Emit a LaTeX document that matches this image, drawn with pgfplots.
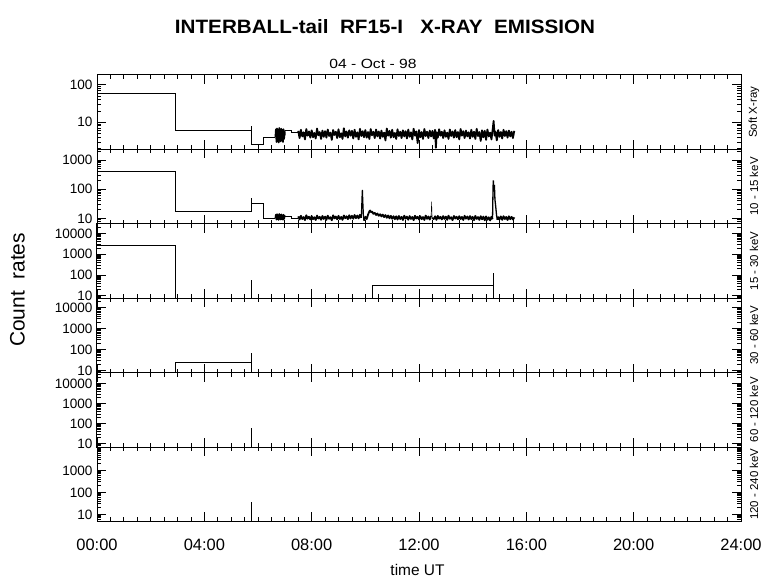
\documentclass[border=0pt]{standalone}
\usepackage{pgfplots}
\pgfplotsset{compat=1.18}
\usepackage{fontspec}
\setmainfont{Liberation Sans}

\pgfplotsset{
  every axis/.append style={
  scale only axis, width=644bp, height=74.4bp, anchor=north west,
  xtick={0,4,...,24}, minor x tick num=7,
  major tick length=9bp, minor tick length=4bp,
  tick style={black, line width=0.8bp},
  axis line style={line width=1bp},
  yticklabel style={font=\fontsize{13.6}{15}\selectfont, xshift=-1bp},
  xticklabel style={font=\fontsize{16.5}{18}\selectfont, yshift=-14bp},
  /pgf/number format/assume math mode=true,
  cycle list={{black, mark=none, line width=1bp}},
  },
  noise/.style={line width=1.8bp, line join=round},
}

\begin{document}
\begin{tikzpicture}
\useasboundingbox (-97bp,75bp) rectangle (683bp,-504bp);

% ---------- panel 1 : Soft X-ray
\begin{axis}[name=p1, at={(0,0)}, xmin=0, xmax=24, ymode=log, xticklabels={},
  ymin=1.9, ymax=180, ytick={10,100}, yticklabels={10,100},
  minor ytick={2,3,4,5,6,7,8,9,20,30,40,50,60,70,80,90}]
\addplot+[const plot] coordinates {(0,59) (2.93,6.2) (5.74,2.6) (6.2,4.0) (6.65,4.0)};
\addplot coordinates {(5.74,6.2) (5.74,8)};
\addplot+[noise] coordinates {(6.65,4.0) (6.67,6.5) (6.69,3.0) (6.71,6.8) (6.73,3.3) (6.75,6.2) (6.77,2.9) (6.79,7.0) (6.81,3.5) (6.83,6.4) (6.85,3.1) (6.87,6.7) (6.89,3.4) (6.91,6.0) (6.93,3.0) (6.95,6.5) (6.97,3.6) (6.99,5.8) (7.00,4.5)};
\addplot+[const plot] coordinates {(7.0,6.2) (7.25,5.4) (7.5,5.4)};
\addplot+[noise] coordinates {
(7.50,5.9) (7.55,3.8) (7.60,6.3) (7.65,4.2) (7.70,5.4) (7.75,3.5) (7.80,6.6) (7.85,4.4) (7.90,5.7) (7.95,3.9)
(8.00,6.1) (8.05,4.0) (8.10,5.2) (8.15,3.7) (8.20,6.8) (8.25,4.5) (8.30,5.5) (8.35,3.6) (8.40,6.0) (8.45,4.1)
(8.50,5.8) (8.55,3.9) (8.60,6.4) (8.65,4.3) (8.70,5.3) (8.75,3.4) (8.80,6.2) (8.85,4.6) (8.90,5.6) (8.95,3.8)
(9.00,6.5) (9.05,4.0) (9.10,5.1) (9.15,3.6) (9.20,6.9) (9.25,4.2) (9.30,5.7) (9.35,3.9) (9.40,6.1) (9.45,4.4)
(9.50,5.9) (9.55,3.7) (9.60,6.3) (9.65,4.1) (9.70,5.4) (9.75,3.5) (9.80,6.7) (9.85,4.3) (9.90,5.8) (9.95,4.0)
(10.00,6.2) (10.05,3.9) (10.10,5.5) (10.15,3.6) (10.20,6.6) (10.25,4.5) (10.30,5.6) (10.35,3.8) (10.40,6.4) (10.45,4.2)
(10.50,5.7) (10.55,3.7) (10.60,6.0) (10.65,4.1) (10.70,5.3) (10.75,3.3) (10.80,6.8) (10.85,4.4) (10.90,5.9) (10.95,3.9)
(11.00,6.3) (11.05,4.0) (11.10,5.2) (11.15,3.6) (11.20,6.5) (11.25,4.3) (11.30,5.6) (11.35,3.8) (11.40,6.1) (11.45,4.2)
(11.50,5.8) (11.55,3.7) (11.60,6.4) (11.65,4.1) (11.70,5.4) (11.75,3.5) (11.80,6.7) (11.85,4.4) (11.90,5.7) (11.95,2.8)
(12.00,6.2) (12.05,4.0) (12.10,5.5) (12.15,3.6) (12.20,6.6) (12.25,4.3) (12.30,5.6) (12.35,3.8) (12.40,6.0) (12.45,4.2)
(12.50,5.9) (12.55,3.7) (12.60,6.3) (12.63,2.1) (12.66,5.4) (12.70,3.9) (12.75,6.5) (12.80,4.4) (12.85,5.6) (12.90,3.8) (12.95,6.1)
(13.00,4.1) (13.05,5.3) (13.10,3.6) (13.15,6.4) (13.20,4.3) (13.25,5.7) (13.30,3.9) (13.35,6.2) (13.40,4.0)
(13.45,5.5) (13.50,3.5) (13.55,6.6) (13.60,4.4) (13.65,5.8) (13.70,3.8) (13.75,6.0) (13.80,4.2) (13.85,5.4) (13.90,3.7)
(13.95,6.3) (14.00,4.1) (14.05,5.6) (14.10,3.6) (14.15,6.7) (14.20,4.3) (14.25,5.5) (14.30,3.2) (14.35,6.1) (14.40,4.0)
(14.45,5.9) (14.50,3.4) (14.55,6.4) (14.60,4.2) (14.65,5.3) (14.70,3.5) (14.75,6.8) (14.78,10.8) (14.82,4.4) (14.85,5.7) (14.90,3.3) (14.95,6.2)
(15.00,4.1) (15.05,5.5) (15.10,3.7) (15.15,6.3) (15.20,4.3) (15.25,5.8) (15.30,3.9) (15.35,6.0) (15.40,4.2) (15.45,5.6) (15.50,3.8) (15.55,5.9)};
\end{axis}

% ---------- panel 2 : 10 - 15 keV
\begin{axis}[name=p2, at={(0,-74.4bp)}, xmin=0, xmax=24, ymode=log, xticklabels={},
  ymin=6.6, ymax=2300, ytick={10,100,1000}, yticklabels={10,100,1000},
  minor ytick={7,8,9,20,30,40,50,60,70,80,90,200,300,400,500,600,700,800,900,2000}]
\addplot+[const plot] coordinates {(0,411) (2.93,17.9) (5.74,33.5) (6.2,10.0) (6.65,10.0)};
\addplot coordinates {(5.74,33.5) (5.74,50)};
\addplot+[noise] coordinates {(6.65,10.0) (6.67,13.5) (6.69,9.2) (6.71,14.0) (6.73,9.6) (6.75,13.0) (6.77,9.0) (6.79,14.2) (6.81,9.8) (6.83,13.2) (6.85,9.3) (6.87,13.8) (6.89,9.5) (6.91,12.8) (6.93,9.1) (6.95,13.4) (6.97,9.7) (6.99,12.5) (7.00,11.0)};
\addplot+[const plot] coordinates {(7.0,11.7) (7.25,10.3) (7.5,10.3)};
\addplot+[noise] coordinates {
(7.50,11.8) (7.55,9.2) (7.60,12.4) (7.65,9.6) (7.70,11.2) (7.75,8.8) (7.80,12.9) (7.85,9.9) (7.90,11.5) (7.95,9.3)
(8.00,12.1) (8.05,9.5) (8.10,11.0) (8.15,8.9) (8.20,12.6) (8.25,10.0) (8.30,11.4) (8.35,9.1) (8.40,12.2) (8.45,9.7)
(8.50,11.6) (8.55,9.0) (8.60,12.5) (8.65,9.8) (8.70,11.1) (8.75,8.7) (8.80,12.8) (8.85,10.1) (8.90,11.7) (8.95,9.4)
(9.00,12.3) (9.05,9.6) (9.10,11.3) (9.15,9.0) (9.20,12.7) (9.25,10.2) (9.30,11.9) (9.35,9.5) (9.40,12.9) (9.45,10.0)
(9.50,12.4) (9.55,9.8) (9.60,13.2) (9.65,10.3) (9.70,12.6) (9.75,10.1) (9.80,13.5) (9.85,10.6)};
\addplot+[line width=1.2bp] coordinates {(9.85,10.6) (9.88,60) (9.89,95) (9.91,30) (9.93,12) (9.95,8.5)};
\addplot+[noise] coordinates {(9.95,8.5)
(10.00,11.5) (10.05,9.6) (10.10,13.5) (10.15,17.5) (10.18,18.8) (10.22,16.2) (10.26,17.0) (10.30,14.5) (10.35,15.6) (10.40,13.2) (10.45,14.8) (10.50,12.4) (10.55,14.0) (10.60,11.8) (10.65,13.6) (10.70,11.2) (10.75,13.1) (10.80,10.6) (10.85,12.7) (10.90,10.2) (10.95,12.3)
(11.00,9.8) (11.05,12.0) (11.10,9.5) (11.15,11.9) (11.20,9.2) (11.25,12.2) (11.30,9.6) (11.35,11.4) (11.40,8.9) (11.45,12.5)
(11.50,9.9) (11.55,11.6) (11.60,9.1) (11.65,12.1) (11.70,9.7) (11.75,11.3) (11.80,8.8) (11.85,12.4) (11.90,10.0) (11.95,11.5)
(12.00,9.3) (12.05,12.0) (12.10,9.5) (12.15,11.2) (12.20,8.9) (12.25,12.6) (12.30,9.8) (12.35,11.7) (12.40,9.2) (12.45,12.2)};
\addplot coordinates {(12.45,12.2) (12.47,38) (12.49,10.5)};
\addplot+[noise] coordinates {(12.49,10.5)
(12.55,9.6) (12.60,11.9) (12.65,9.0) (12.70,12.3) (12.75,9.9) (12.80,11.4) (12.85,9.3) (12.90,12.1) (12.95,9.7)
(13.00,11.6) (13.05,9.0) (13.10,12.5) (13.15,9.8) (13.20,11.1) (13.25,8.8) (13.30,12.2) (13.35,10.0) (13.40,11.5) (13.45,9.4)
(13.50,12.0) (13.55,9.6) (13.60,11.3) (13.65,8.9) (13.70,12.4) (13.75,9.9) (13.80,11.7) (13.85,9.2) (13.90,12.1) (13.95,9.5)
(14.00,11.4) (14.05,8.8) (14.10,12.3) (14.15,9.7) (14.20,11.2) (14.25,9.0) (14.30,12.0) (14.35,9.4) (14.40,11.6) (14.45,8.7)
(14.50,11.8) (14.55,9.1) (14.60,11.0) (14.65,8.6) (14.70,11.5) (14.74,9.5)};
\addplot+[line width=1.3bp] coordinates {(14.74,9.5) (14.76,120) (14.77,200) (14.79,95) (14.81,140) (14.83,45) (14.86,25) (14.89,13) (14.92,9.0)};
\addplot+[noise] coordinates {(14.92,9.0) (14.95,11.2)
(15.00,9.4) (15.05,11.8) (15.10,9.0) (15.15,12.0) (15.20,9.6) (15.25,11.3) (15.30,8.9) (15.35,11.9) (15.40,9.5) (15.45,11.4) (15.50,9.2) (15.55,11.0)};
\end{axis}

% ---------- panel 3 : 15 - 30 keV
\begin{axis}[name=p3, at={(0,-148.8bp)}, xmin=0, xmax=24, ymode=log, xticklabels={},
  ymin=7.7, ymax=29000, ytick={10,100,1000,10000}, yticklabels={10,100,1000,10000},
  minor ytick={8,9,20,30,40,50,60,70,80,90,200,300,400,500,600,700,800,900,2000,3000,4000,5000,6000,7000,8000,9000,20000}]
\addplot+[const plot] coordinates {(0,2630) (2.93,0.001) (10.26,34) (14.77,0.001) (24,0.001)};
\addplot coordinates {(5.74,0.001) (5.74,60)};
\addplot+[line width=1.8bp] coordinates {(14.78,0.001) (14.78,127)};
\end{axis}

% ---------- panel 4 : 30 - 60 keV
\begin{axis}[name=p4, at={(0,-223.2bp)}, xmin=0, xmax=24, ymode=log, xticklabels={},
  ymin=7.8, ymax=29000, ytick={10,100,1000,10000}, yticklabels={10,100,1000,10000},
  minor ytick={8,9,20,30,40,50,60,70,80,90,200,300,400,500,600,700,800,900,2000,3000,4000,5000,6000,7000,8000,9000,20000}]
\addplot+[const plot] coordinates {(0,0.001) (2.93,25) (5.74,0.001) (24,0.001)};
\addplot coordinates {(5.74,0.001) (5.74,69)};
\end{axis}

% ---------- panel 5 : 60 - 120 keV
\begin{axis}[name=p5, at={(0,-297.6bp)}, xmin=0, xmax=24, ymode=log, xticklabels={},
  ymin=7, ymax=35000, ytick={10,100,1000,10000}, yticklabels={10,100,1000,10000},
  minor ytick={7,8,9,20,30,40,50,60,70,80,90,200,300,400,500,600,700,800,900,2000,3000,4000,5000,6000,7000,8000,9000,20000,30000}]
\addplot coordinates {(5.74,0.001) (5.74,61)};
\end{axis}

% ---------- panel 6 : 120 - 240 keV
\begin{axis}[name=p6, at={(0,-372bp)}, xmin=0, xmax=24, ymode=log,
  ymin=4.8, ymax=11500, ytick={10,100,1000}, yticklabels={10,100,1000},
  minor ytick={5,6,7,8,9,20,30,40,50,60,70,80,90,200,300,400,500,600,700,800,900,2000,3000,4000,5000,6000,7000,8000,9000,10000},
  xticklabels={00:00,04:00,08:00,12:00,16:00,20:00,24:00}]
\addplot coordinates {(5.74,0.001) (5.74,35)};
\end{axis}

% ---------- texts
\node[inner sep=0] at (288bp,48.7bp) {\resizebox{420bp}{14bp}{\bfseries INTERBALL-tail\ \ RF15-I\ \ \ X-RAY\ \ EMISSION}};
\node[inner sep=0] at (276bp,11bp) {\resizebox{87bp}{9.3bp}{04 - Oct - 98}};
\node[inner sep=0, rotate=90, font=\fontsize{21}{24}\selectfont] at (-79.5bp,-215bp) {Count\ \ rates};
\node[inner sep=0, font=\fontsize{15.5}{18}\selectfont] at (320.5bp,-495bp) {time UT};
\begin{scope}[every node/.style={inner sep=0, rotate=90, font=\fontsize{11.5}{13}\selectfont}]
\node at ([xshift=13bp]p1.east) {Soft X-ray};
\node at ([xshift=13bp]p2.east) {10 - 15 keV};
\node at ([xshift=13bp]p3.east) {15 - 30 keV};
\node at ([xshift=13bp]p4.east) {30 - 60 keV};
\node at ([xshift=13bp]p5.east) {60 - 120 keV};
\node at ([xshift=13bp]p6.east) {120 - 240 keV};
\end{scope}
\end{tikzpicture}
\end{document}
